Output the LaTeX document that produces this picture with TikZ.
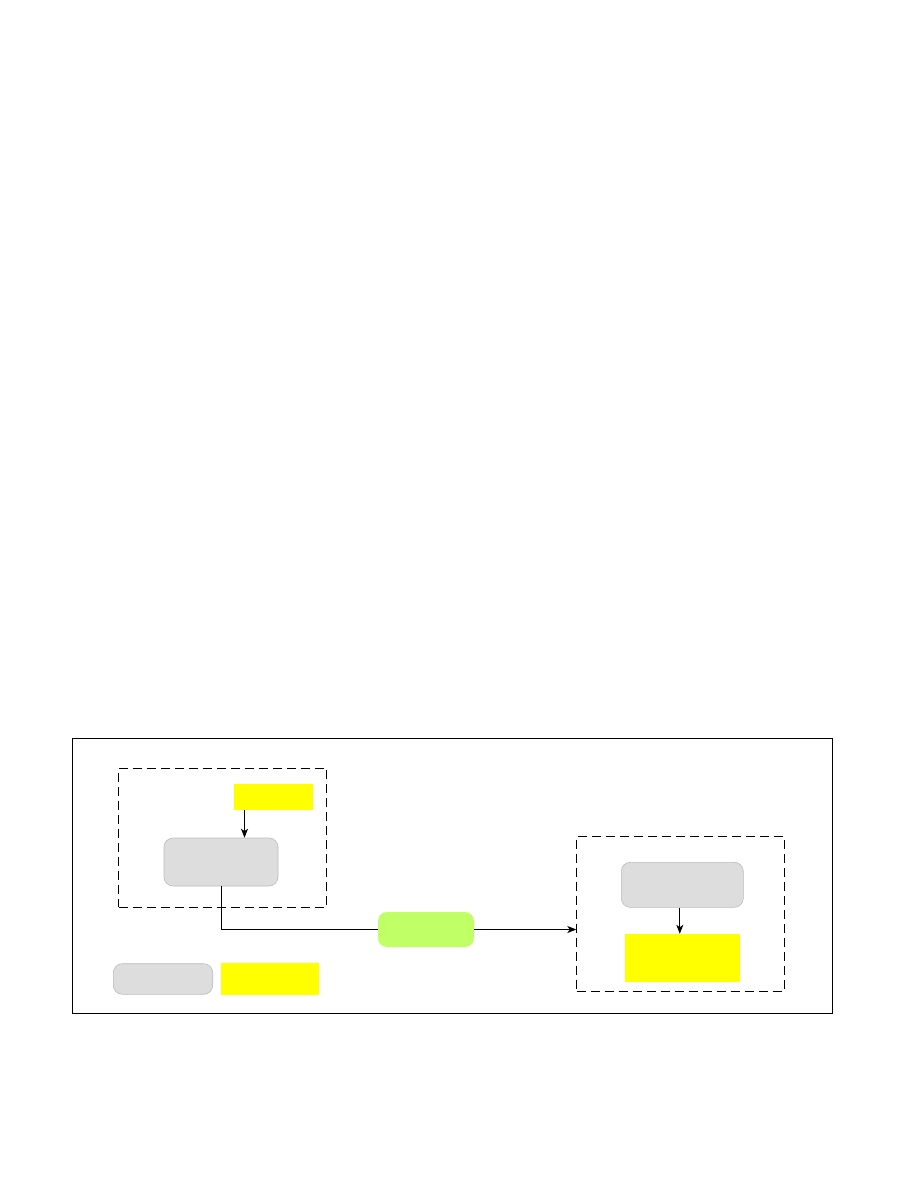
\documentclass[tikz,border=0pt]{standalone}
\usepackage{tikz}
\usetikzlibrary{calc,arrows.meta}
\definecolor{procgray}{HTML}{DDDDDD}
\definecolor{procedge}{HTML}{BBBBBB}
\definecolor{datayellow}{HTML}{FFFF00}
\definecolor{flowgreen}{HTML}{C0FF66}
\tikzset{
	procbox/.style={draw=procedge, fill=procgray, line width=0.6pt, rounded corners=9pt, inner sep=0pt},
	databox/.style={fill=datayellow, inner sep=0pt},
	flowbox/.style={fill=flowgreen, rounded corners=9pt, inner sep=0pt},
	groupbox/.style={draw, line width=0.8pt, dash pattern=on 9pt off 5pt, inner sep=0pt},
	link/.style={line width=0.8pt, -{Stealth[length=9pt,width=7pt,inset=2.5pt]}}
}

\begin{document}
\begin{tikzpicture}[x=1pt, y=-1pt]
		%%%%% START %%%%%
		\useasboundingbox (0, 0) rectangle (918, 1188);
		
		\draw[line width=0.9pt] (72, 738) rectangle (832, 1013);
		
		% left group
		\node[groupbox, minimum width=208pt, minimum height=139pt] (lbox) at (222.5, 837.8) {};
		\node[databox, minimum width=79pt, minimum height=26pt] (ytop) at (273.5, 797) {};
		\node[procbox, minimum width=114pt, minimum height=48pt] (gleft) at (221, 862) {};
		\draw[link] ([xshift=-29pt]ytop.south) -- ([xshift=-29pt]ytop.south |- gleft.north);
		
		% middle
		\node[flowbox, minimum width=96pt, minimum height=35pt] (green) at (426, 929.5) {};
		
		% right group
		\node[groupbox, minimum width=207.6pt, minimum height=155.3pt] (rbox) at (680.5, 913.7) {};
		\node[procbox, minimum width=122pt, minimum height=45pt] (gright) at (682.3, 884.8) {};
		\node[databox, minimum width=115pt, minimum height=47.7pt] (yright) at (682.5, 957.8) {};
		\draw[link] ([xshift=-2.5pt]gright.south) -- ([xshift=-2.5pt]gright.south |- yright.north);
		
		\draw[line width=0.8pt] (gleft.south) |- (green.west);
		\draw[link] (green.east) -- (green.east -| rbox.west);
		
		% legend
		\node[procbox, minimum width=99.4pt, minimum height=30.6pt] (lgray) at (163, 979) {};
		\node[databox, minimum width=98pt, minimum height=31.7pt] (lyellow) at (270, 978.8) {};
		%%%%% END %%%%%
	\end{tikzpicture}
\end{document}
